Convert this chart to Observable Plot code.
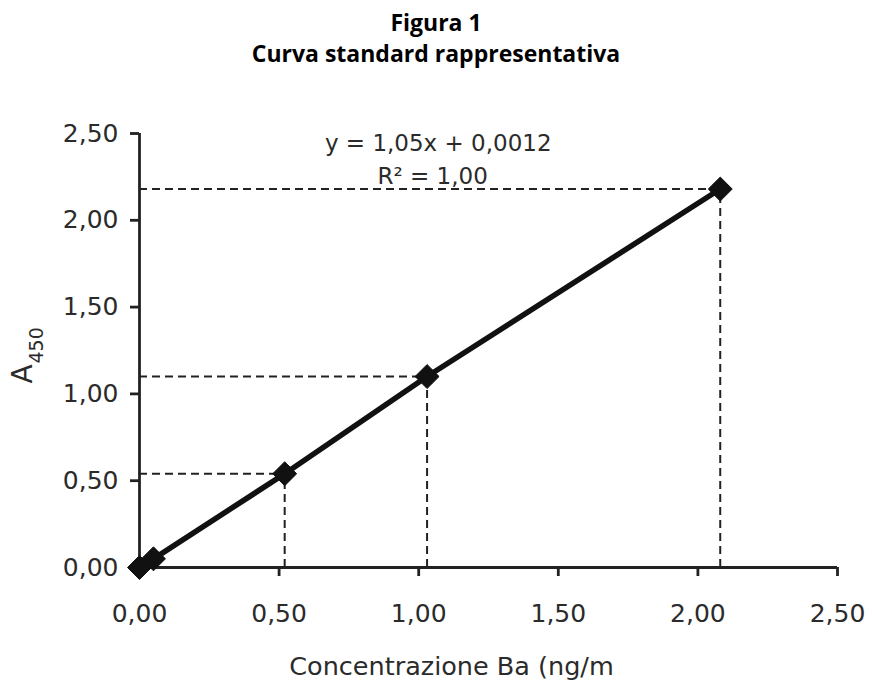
<!DOCTYPE html>
<html>
<head>
<meta charset="utf-8">
<script src="https://cdn.jsdelivr.net/npm/d3@7"></script>
<script src="https://cdn.jsdelivr.net/npm/@observablehq/plot@0.6"></script>
<style>
  html, body { margin: 0; padding: 0; background: #fff; }
  #title { width: 872px; text-align: center; font-family: "Open Sans", "Lato", sans-serif; font-weight: bold; font-size: 23px; line-height: 31px; color: #000; padding-top: 7px; height: 75px; box-sizing: border-box; }
  #chart svg { display: block; }
</style>
</head>
<body>
<div id="title">Figura 1<br>Curva standard rappresentativa</div>
<div id="chart"></div>
<script>
// Data
const concentration = [0.00, 0.05, 0.52, 1.03, 2.08];
const absorbance    = [0.00, 0.05, 0.54, 1.10, 2.18];
const guideIdx = [2, 3, 4]; // points with dashed guide lines
const ticks = [0, 0.5, 1.0, 1.5, 2.0, 2.5];
const equationLines = ["y = 1,05x + 0,0012", "R² = 1,00"];
const equationY = [2.44, 2.25];
const equationX = [1.07, 1.05];
const xLabel = "Concentrazione Ba (ng/m";
const yLabelMain = "A";
const yLabelSub = "450";

const points = concentration.map((c, i) => ({x: c, y: absorbance[i]}));
const guides = guideIdx.map(i => points[i]);
const eq = equationLines.map((t, i) => ({t, x: equationX[i], y: equationY[i]}));
const fmt = d => d.toFixed(2).replace(".", ",");

const ink = "#222";
const txt = "#2b2b2b";
const chart = Plot.plot({
  width: 872,
  height: 610,
  marginTop: 58,
  marginLeft: 139,
  marginRight: 35,
  marginBottom: 118,
  style: {fontFamily: "DejaVu Sans, sans-serif", fontSize: "25px", color: txt, background: "#fff"},
  x: {domain: [0, 2.5]},
  y: {domain: [0, 2.5]},
  marks: [
    Plot.ruleY(guides, {y: "y", x1: 0, x2: "x", stroke: ink, strokeWidth: 2, strokeDasharray: "8,5"}),
    Plot.ruleX(guides, {x: "x", y1: 0, y2: "y", stroke: ink, strokeWidth: 2, strokeDasharray: "8,5"}),
    Plot.ruleX([0], {stroke: ink, strokeWidth: 2.8}),
    Plot.ruleY([0], {stroke: ink, strokeWidth: 2.8}),
    Plot.axisX({ticks, tickFormat: fmt, tickSize: 9, tickPadding: 28, stroke: ink, strokeWidth: 2.8, fill: txt, label: null}),
    Plot.axisY({ticks, tickFormat: fmt, tickSize: 9, tickPadding: 12, stroke: ink, strokeWidth: 2.8, fill: txt, label: null}),
    Plot.line(points, {x: "x", y: "y", stroke: "#111", strokeWidth: 5.5}),
    Plot.dot(points, {x: "x", y: "y", symbol: "diamond2", r: 10.8, fill: "#111", stroke: "#111", strokeWidth: 1}),
    Plot.text(eq, {x: "x", y: "y", text: "t", fontSize: 23, fill: txt}),
    // axis titles
    Plot.text([xLabel], {text: d => d, frameAnchor: "bottom", dx: -37, dy: 107, fontSize: 25.5, fill: txt}),
    Plot.text([yLabelMain], {text: d => d, frameAnchor: "left", rotate: -90, textAnchor: "start", dx: -116, dy: 33, fontSize: 28, fill: txt}),
    Plot.text([yLabelSub], {text: d => d, frameAnchor: "left", rotate: -90, textAnchor: "start", dx: -103, dy: 13, fontSize: 19, fill: txt})
  ]
});
document.getElementById("chart").appendChild(chart);
</script>
</body>
</html>
